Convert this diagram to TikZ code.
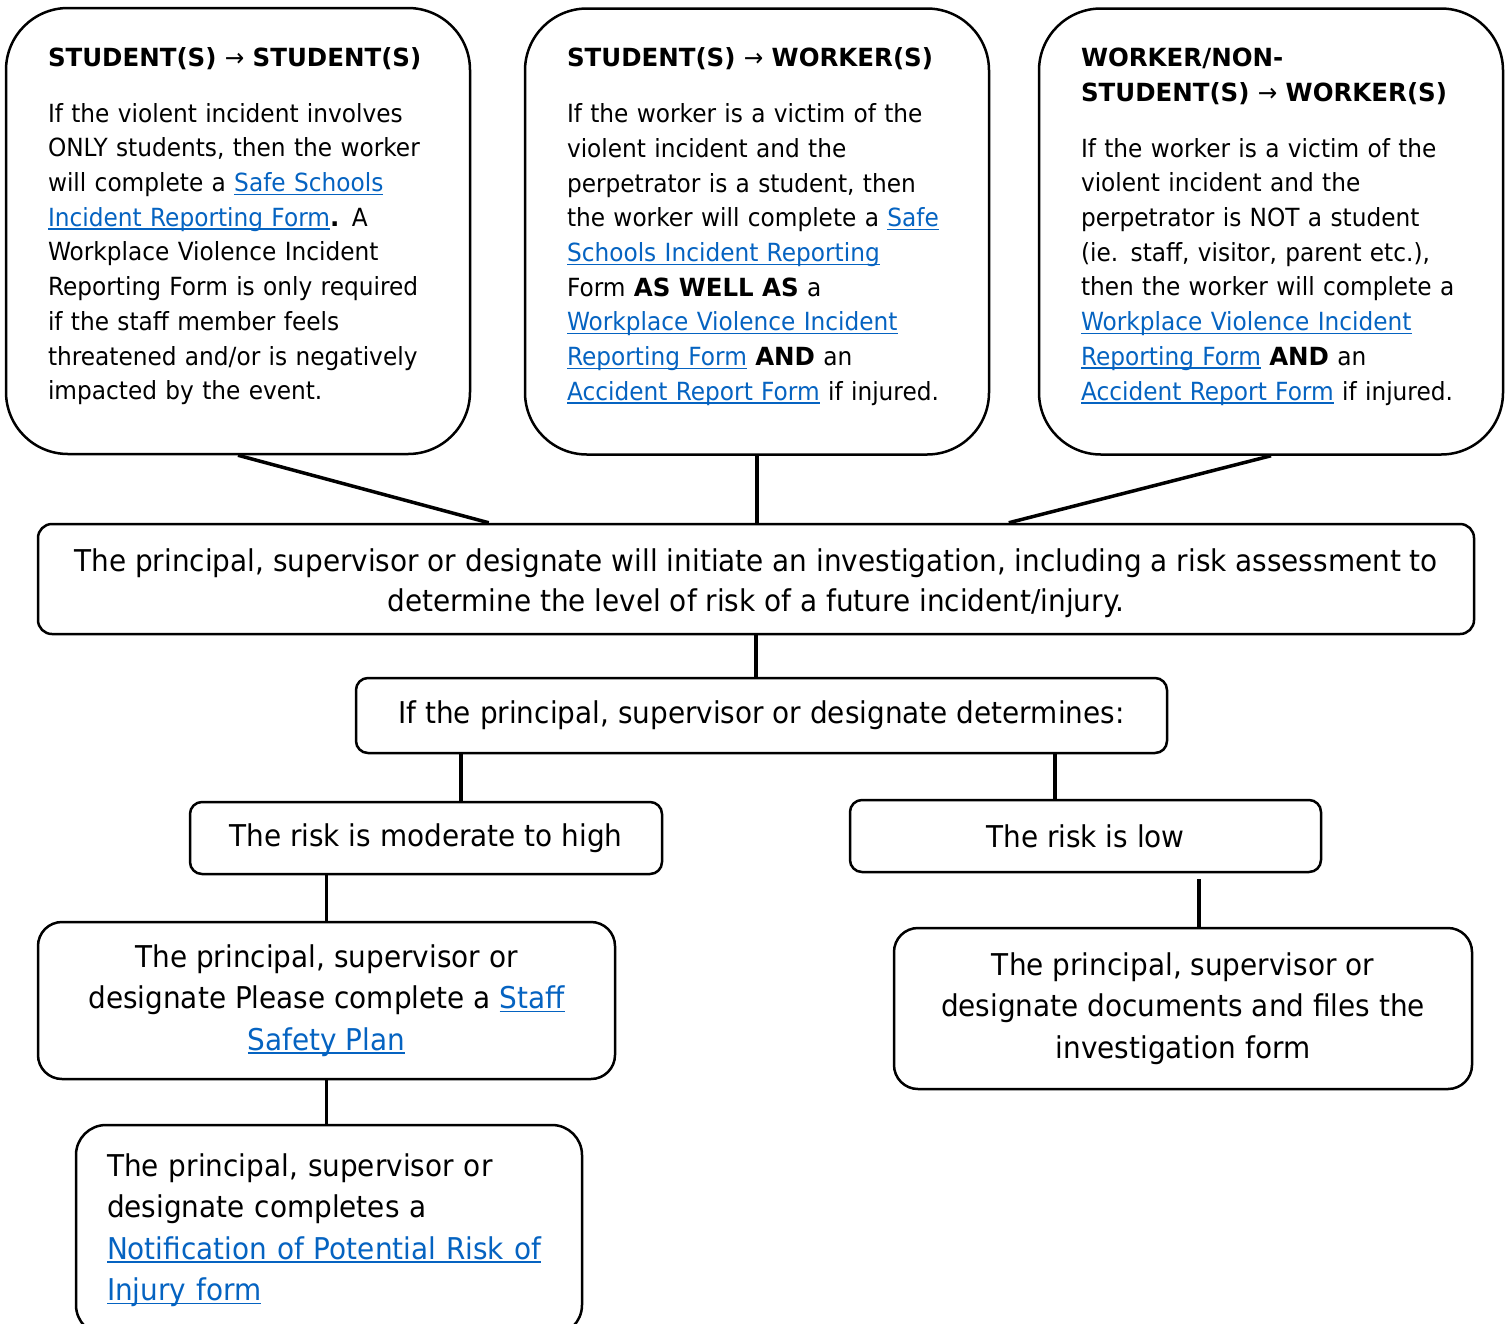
\documentclass[tikz,border=0pt]{standalone}
\usepackage{fontspec}
\setmainfont{DejaVu Sans}[FakeStretch=0.93,BoldFeatures={FakeStretch=0.98}]
\definecolor{linkblue}{HTML}{0563C1}
\newcommand{\lnk}[1]{\textcolor{linkblue}{\setbox0\hbox{#1}\rlap{\rule[-1.8pt]{\wd0}{0.75pt}}\box0}}
\newcommand{\arr}{\ \textmd{→}\ }
\begin{document}
\begin{tikzpicture}[x=0.5pt,y=-0.5pt,
  tbox/.style={draw=black,line width=1.25pt,rounded corners=31pt,minimum width=232pt,minimum height=223pt,text width=190pt,inner xsep=21pt,align=left,font=\fontsize{12.5}{17.35}\selectfont},
  pbox/.style={draw=black,line width=1.25pt,rounded corners=7pt,align=center,font=\fontsize{15}{20}\selectfont},
  lbox/.style={draw=black,line width=1.25pt,rounded corners=12pt,align=center,font=\fontsize{15}{20.75}\selectfont},
  link/.style={line width=1.75pt}]
\useasboundingbox (0,0) rectangle (1509,1323);
% Top left
\path (238,231) node(ss)[tbox] {\textbf{STUDENT(S)\arr STUDENT(S)}\\[10.5pt]
If the violent incident involves\\ONLY students, then the worker\\will complete a \lnk{Safe Schools}\\\lnk{Incident Reporting Form}\textbf{.} A\\Workplace Violence Incident\\Reporting Form is only required\\if the staff member feels\\threatened and/or is negatively\\impacted by the event.\\[-10pt]\mbox{}};
% Top middle
\path (757,231.5) node(sw)[tbox] {\textbf{STUDENT(S)\arr WORKER(S)}\\[10.5pt]
If the worker is a victim of the\\violent incident and the\\perpetrator is a student, then\\the worker will complete a \lnk{Safe}\\\lnk{Schools Incident Reporting}\\Form \textbf{AS WELL AS} a\\\lnk{Workplace Violence Incident}\\\lnk{Reporting Form} \textbf{AND} an\\\lnk{Accident Report Form} if injured.\\[-10pt]\mbox{}};
% Top right
\path (1271,231.5) node(ww)[tbox] {\textbf{WORKER/NON-}\\\textbf{STUDENT(S)\arr WORKER(S)}\\[10.5pt]
If the worker is a victim of the\\violent incident and the\\perpetrator is NOT a student\\(ie. staff, visitor, parent etc.),\\then the worker will complete a\\\lnk{Workplace Violence Incident}\\\lnk{Reporting Form} \textbf{AND} an\\\lnk{Accident Report Form} if injured.\\[-10pt]\mbox{}};
% Investigation
\path (756,579) node(inv)[pbox,minimum width=718pt,minimum height=55pt] {\rule{0pt}{15.4pt}The principal, supervisor or designate will initiate an investigation, including a risk assessment to\\determine the level of risk of a future incident/injury.};
\path (761.5,715.5) node(det)[pbox,rounded corners=6pt,minimum width=405.5pt,minimum height=37.5pt] {If the principal, supervisor or designate determines:};
% Risk levels
\path (426,838) node(high)[pbox,rounded corners=6pt,minimum width=236pt,minimum height=36pt] {The risk is moderate to high};
\path (1085.5,836) node(low)[pbox,rounded corners=6pt,minimum width=235.5pt,minimum height=36pt] {The risk is low};
% Outcomes
\path (326.5,1000.5) node(plan)[lbox,minimum width=288.5pt,minimum height=78.5pt] {The principal, supervisor or\\designate Please complete a \lnk{Staff}\\\lnk{Safety Plan}};
\path (329,1230) node(notif)[lbox,rounded corners=15pt,align=left,minimum width=253pt,minimum height=105pt,text width=222pt,inner xsep=15.5pt] {The principal, supervisor or\\designate completes a\\\lnk{Notification of Potential Risk of}\\\lnk{Injury form}};
\path (1183,1008.5) node(docs)[lbox,minimum width=289pt,minimum height=80.5pt] {The principal, supervisor or\\designate documents and files the\\investigation form};
% Connectors
\draw[link] (ss.south) -- ([xshift=226pt]inv.north west);
\draw[link] (sw.south) -- (sw.south |- inv.north);
\draw[link] (ww.south) -- ([xshift=486pt]inv.north west);
\draw[link] (inv.south) -- (inv.south |- det.north);
\draw[link] ([xshift=53pt]det.south west) -- ([xshift=53pt]det.south west |- high.north);
\draw[link] ([xshift=350pt]det.south west) -- ([xshift=350pt]det.south west |- low.north);
\draw[link] (plan.north |- high.south) -- (plan.north);
\draw[link] (plan.south) -- (plan.south |- notif.north);
\draw[link] ([xshift=175pt,yshift=-3pt]low.south west) -- ([xshift=175pt]low.south west |- docs.north);
\end{tikzpicture}
\end{document}
